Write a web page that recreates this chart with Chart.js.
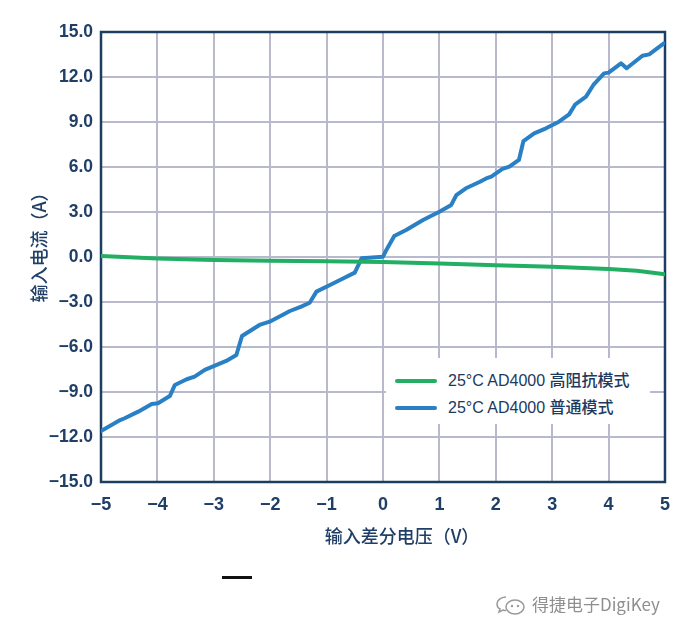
<!DOCTYPE html>
<html>
<head>
<meta charset="utf-8">
<script src="https://cdn.jsdelivr.net/npm/chart.js@4.4.1/dist/chart.umd.min.js"></script>
<style>
  html, body { margin: 0; padding: 0; background: #fff; }
  #wrap { position: relative; width: 682px; height: 635px; overflow: hidden; }
  #c { position: absolute; left: 0; top: 0; }
  #legend { position: absolute; left: 386px; top: 358px; width: 264px; height: 66px; background: #fff;
            font-family: "Liberation Sans", "Noto Sans CJK SC", sans-serif; font-size: 16px; color: #1b3a60; }
  .li { position: absolute; left: 9px; height: 20px; line-height: 20px; white-space: nowrap; }
  .sw { display: inline-block; width: 42px; height: 4px; border-radius: 2px; vertical-align: middle; margin-right: 11px; position: relative; top: -1px; }
  .cjk { font-family: "Noto Sans CJK SC", sans-serif; font-weight: 500; }
  #dash { position: absolute; left: 222px; top: 576px; width: 30px; height: 3px; background: #111; }
  #wm { position: absolute; left: 496px; top: 592px; height: 24px; line-height: 24px; color: #8f8f8f;
        font-family: "Noto Sans CJK SC", sans-serif; font-size: 17px; white-space: nowrap; }
  #wm svg { vertical-align: middle; margin-right: 6px; position: relative; top: -1px; }
</style>
</head>
<body>
<div id="wrap">
  <canvas id="c" width="682" height="635"></canvas>
  <div id="legend"></div>
  <div id="dash"></div>
  <div id="wm"><svg width="30" height="22" viewBox="0 0 30 22"><path d="M10 3 C4 3 1 7 1 10 C1 12 2 14 4 15 L3 18 L7 16 C8 16.5 9 16.6 10 16.6" fill="none" stroke="#9a9a9a" stroke-width="1.5"/><ellipse cx="19" cy="13" rx="9" ry="7" fill="none" stroke="#9a9a9a" stroke-width="1.5"/><circle cx="16" cy="12" r="1.2" fill="#9a9a9a"/><circle cx="22" cy="12" r="1.2" fill="#9a9a9a"/></svg>得捷电子DigiKey</div>
</div>
<script>
// ---- data ----
const xTitle = "输入差分电压（V）";
const yTitle = "输入电流（A）";
const seriesNames = ["25°C AD4000 高阻抗模式", "25°C AD4000 普通模式"];
const seriesColors = ["#22ae63", "#2a80c5"];

const highZX = [-5, -4, -3, -2, -1, 0, 1, 2, 3, 4, 4.5, 5];
const highZY = [0.07, -0.1, -0.2, -0.25, -0.28, -0.34, -0.43, -0.55, -0.65, -0.8, -0.92, -1.15];

const normalX = [-5, -4.66, -4.58, -4.34, -4.10, -3.99, -3.78, -3.69, -3.48, -3.34, -3.16, -2.98, -2.78, -2.60, -2.50, -2.19, -2.01, -1.65, -1.45, -1.30, -1.18, -0.94, -0.70, -0.50, -0.38, 0, 0.06, 0.20, 0.41, 0.71, 1.0, 1.21, 1.30, 1.47, 1.71, 1.83, 1.92, 2.12, 2.24, 2.41, 2.49, 2.68, 2.89, 3.12, 3.30, 3.41, 3.60, 3.73, 3.92, 4.0, 4.22, 4.32, 4.60, 4.72, 4.98];
const normalY = [-11.6, -10.87, -10.75, -10.31, -9.8, -9.75, -9.27, -8.53, -8.15, -7.98, -7.53, -7.24, -6.93, -6.53, -5.27, -4.53, -4.31, -3.6, -3.31, -3.05, -2.31, -1.87, -1.42, -1.04, -0.09, 0.02, 0.47, 1.4, 1.8, 2.47, 3.02, 3.47, 4.13, 4.58, 5.0, 5.24, 5.36, 5.87, 6.02, 6.47, 7.73, 8.24, 8.58, 9.02, 9.51, 10.18, 10.69, 11.47, 12.24, 12.29, 12.91, 12.58, 13.42, 13.51, 14.24];

const xMin = -5, xMax = 5, xStep = 1;
const yMin = -15, yMax = 15, yStep = 3;

// ---- build ----
const toPts = (xs, ys) => xs.map((x, i) => ({ x: x, y: ys[i] }));
const minus = v => (v < 0 ? "\u2212" : "");
const navy = "#1f3f66";

const legendEl = document.getElementById("legend");
seriesNames.forEach((n, i) => {
  const d = document.createElement("div");
  d.className = "li";
  d.style.top = (i === 0 ? 11 : 38) + "px";
  const parts = n.split(" ");
  const cjk = parts.pop();
  d.innerHTML = '<span class="sw" style="background:' + seriesColors[i] + '"></span>' + parts.join(" ") + ' <span class="cjk">' + cjk + '</span>';
  legendEl.appendChild(d);
});

const framePlugin = {
  id: "frame",
  beforeDatasetsDraw(chart) {
    const a = chart.chartArea, ctx = chart.ctx;
    ctx.save();
    ctx.strokeStyle = "#1d3d63";
    ctx.lineWidth = 2.5;
    ctx.strokeRect(a.left, a.top, a.right - a.left, a.bottom - a.top);
    ctx.restore();
  },
  afterDraw(chart) {
    const ctx = chart.ctx;
    ctx.save();
    ctx.fillStyle = navy;
    ctx.font = '500 18px "Noto Sans CJK SC", sans-serif';
    ctx.textAlign = "center";
    ctx.textBaseline = "middle";
    ctx.fillText(xTitle, 402, 536);
    ctx.translate(39, 243);
    ctx.rotate(-Math.PI / 2);
    ctx.fillText(yTitle, 0, 0);
    ctx.restore();
  }
};

new Chart(document.getElementById("c"), {
  type: "line",
  data: {
    datasets: [
      { label: seriesNames[0], data: toPts(highZX, highZY), borderColor: seriesColors[0], borderWidth: 4, pointRadius: 0, tension: 0, borderJoinStyle: "round", borderCapStyle: "round" },
      { label: seriesNames[1], data: toPts(normalX, normalY), borderColor: seriesColors[1], borderWidth: 4, pointRadius: 0, tension: 0, borderJoinStyle: "round", borderCapStyle: "round" }
    ]
  },
  options: {
    responsive: false,
    animation: false,
    layout: { padding: { top: 32, right: 14, left: 0, bottom: 113 } },
    plugins: { legend: { display: false }, tooltip: { enabled: false } },
    scales: {
      x: {
        type: "linear", min: xMin, max: xMax,
        afterFit: s => { s.height = 40; },
        border: { display: false },
        grid: { color: "#b9b9cd", lineWidth: 2, drawTicks: false },
        ticks: { stepSize: xStep, padding: 12, color: navy, font: { family: "Liberation Sans", size: 18, weight: "bold" },
                 callback: v => minus(v) + Math.abs(v) }
      },
      y: {
        type: "linear", min: yMin, max: yMax,
        afterFit: s => { s.width = 101; },
        border: { display: false },
        grid: { color: "#b9b9cd", lineWidth: 2, drawTicks: false },
        ticks: { stepSize: yStep, padding: 8, color: navy, font: { family: "Liberation Sans", size: 17.5, weight: "bold" },
                 callback: v => minus(v) + Math.abs(v).toFixed(1) }
      }
    }
  },
  plugins: [framePlugin]
});
</script>
</body>
</html>
